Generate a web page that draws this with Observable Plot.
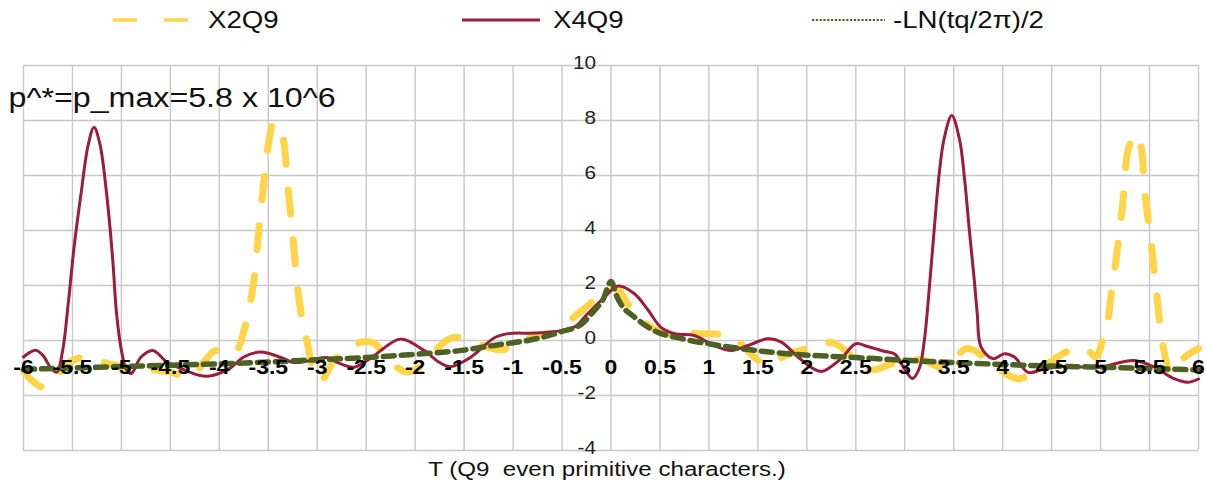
<!DOCTYPE html>
<html>
<head>
<meta charset="utf-8">
<script src="https://cdn.jsdelivr.net/npm/d3@7"></script>
<script src="https://cdn.jsdelivr.net/npm/@observablehq/plot@0.6"></script>
<style>
  body { margin: 0; background: #fff; font-family: "Liberation Sans", Arial, sans-serif; }
  #legend { position: relative; width: 1206px; height: 40px; }
  .item { position: absolute; top: 0; height: 40px; display: flex; align-items: center; }
  .item svg { display: block; }
  .item span { display: inline-block; font-size: 24px; color: #111; transform: scaleX(1.15); transform-origin: left center; }
</style>
</head>
<body>
<div id="legend"></div>
<div id="chart"></div>
<script>
// Series: X2Q9, X4Q9 and the reference curve -LN(tq/2π)/2, sampled along T
const x2q9T = [-6.0,-5.9,-5.79,-5.68,-5.57,-5.45,-5.33,-5.2,-5.05,-4.9,-4.7,-4.5,-4.35,-4.25,-4.15,-4.06,-3.98,-3.9,-3.82,-3.76,-3.7,-3.65,-3.6,-3.55,-3.5,-3.45,-3.4,-3.35,-3.3,-3.25,-3.2,-3.15,-3.1,-3.03,-2.96,-2.83,-2.69,-2.55,-2.42,-2.3,-2.2,-2.08,-1.95,-1.81,-1.68,-1.58,-1.45,-1.33,-1.2,-1.1,-0.98,-0.85,-0.7,-0.55,-0.38,-0.2,-0.08,0.02,0.1,0.17,0.3,0.41,0.54,0.7,0.92,1.12,1.25,1.36,1.46,1.55,1.65,1.75,1.85,1.95,2.1,2.28,2.45,2.6,2.73,2.86,3.0,3.2,3.37,3.5,3.62,3.71,3.85,3.95,4.05,4.17,4.3,4.39,4.5,4.63,4.75,4.87,4.95,5.02,5.07,5.1,5.17,5.23,5.28,5.35,5.41,5.45,5.52,5.58,5.64,5.72,5.82,5.92,6.0];
const x2q9V = [-1.1,-1.5,-1.7,-1.4,-0.9,-0.65,-0.62,-0.78,-0.92,-1.0,-1.05,-1.15,-1.3,-1.2,-0.75,-0.4,-0.36,-0.5,-0.35,0.2,1.1,2.1,3.9,5.6,7.1,7.85,7.9,7.4,5.6,3.8,1.9,0.7,-0.1,-1.2,-1.45,-0.73,-0.36,-0.06,-0.1,-0.6,-0.95,-1.15,-0.95,-0.42,0.0,0.12,-0.02,-0.15,-0.3,-0.33,-0.1,0.07,0.22,0.3,0.84,1.38,1.75,1.9,1.75,1.33,0.8,0.48,0.25,0.25,0.25,0.22,0.1,-0.24,-0.6,-0.82,-0.85,-0.6,-0.45,-0.35,-0.15,-0.1,-0.55,-1.05,-1.03,-0.85,-0.7,-0.73,-0.97,-0.7,-0.3,-0.36,-0.73,-1.0,-1.25,-1.39,-1.2,-1.09,-0.75,-0.45,-0.27,-0.35,-0.6,0.0,0.6,1.45,3.27,5.1,6.9,7.5,7.1,5.45,3.4,1.45,-0.24,-1.2,-0.73,-0.45,-0.3];

const x4q9T = [-6.0,-5.93,-5.87,-5.8,-5.72,-5.66,-5.6,-5.54,-5.48,-5.41,-5.34,-5.28,-5.22,-5.15,-5.09,-5.05,-5.0,-4.95,-4.9,-4.8,-4.68,-4.53,-4.37,-4.22,-4.12,-3.91,-3.75,-3.58,-3.37,-3.24,-3.1,-2.91,-2.76,-2.62,-2.42,-2.35,-2.15,-1.91,-1.75,-1.64,-1.43,-1.19,-1.05,-0.78,-0.51,-0.37,-0.24,-0.07,0.07,0.24,0.38,0.51,0.65,0.85,1.05,1.23,1.4,1.6,1.74,1.91,2.07,2.16,2.35,2.5,2.62,2.79,2.9,3.0,3.08,3.15,3.2,3.24,3.3,3.35,3.4,3.48,3.56,3.61,3.66,3.71,3.74,3.78,3.9,4.02,4.12,4.26,4.43,4.63,5.0,5.21,5.35,5.55,5.75,5.89,6.0];
const x4q9V = [-0.6,-0.42,-0.36,-0.55,-1.0,-1.15,-0.36,1.45,3.5,5.4,7.1,7.75,7.15,5.3,3.0,1.0,-0.36,-1.05,-1.2,-0.6,-0.36,-0.8,-1.05,-1.25,-1.3,-1.05,-0.6,-0.42,-0.62,-0.8,-0.75,-0.62,-0.85,-0.97,-0.55,-0.36,0.05,-0.36,-0.8,-0.95,-0.6,0.1,0.25,0.27,0.36,0.5,0.97,1.56,1.98,1.7,1.1,0.48,0.25,0.18,-0.18,-0.36,-0.18,0.06,-0.06,-0.6,-1.03,-1.12,-0.66,-0.12,-0.22,-0.39,-0.5,-1.05,-1.38,-1.0,0.0,1.45,4.0,6.0,7.3,8.18,7.3,5.9,4.0,2.2,1.0,-0.24,-0.66,-0.48,-0.6,-1.16,-1.03,-0.95,-0.97,-0.79,-0.73,-0.97,-1.39,-1.52,-1.4];

const lnT = [-6,-5.5,-5,-4.5,-4,-3.5,-3,-2.5,-2,-1.5,-1.2,-1,-0.85,-0.7,-0.5,-0.3,-0.17,-0.08,0,0.06,0.1,0.24,0.44,0.72,1.0,1.4,1.8,2.5,3,3.5,4,4.5,5,5.5,6];
const lnV = [-1.05,-1.0,-0.95,-0.9,-0.85,-0.78,-0.7,-0.62,-0.5,-0.35,-0.18,-0.08,0.0,0.12,0.33,0.6,1.09,1.5,2.15,1.6,1.33,0.85,0.36,0.07,-0.12,-0.33,-0.48,-0.62,-0.72,-0.8,-0.87,-0.93,-0.97,-1.02,-1.07];

// Axis ticks and labels
const xTicks = [-6,-5.5,-5,-4.5,-4,-3.5,-3,-2.5,-2,-1.5,-1,-0.5,0,0.5,1,1.5,2,2.5,3,3.5,4,4.5,5,5.5,6];
const xTickLabels = ["-6","-5.5","-5","-4.5","-4","-3.5","-3","-2.5","-2","-1.5","-1","-0.5","0","0.5","1","1.5","2","2.5","3","3.5","4","4.5","5","5.5","6"];
const yTicks = [-4,-2,0,2,4,6,8,10];
const yTickLabels = ["-4","-2","0","2","4","6","8","10"];

const seriesNames = ["X2Q9", "X4Q9", "-LN(tq/2\u03c0)/2"];
const seriesColors = ["#ffd447", "#9b1c3c", "#4d6125"];
const annotation = "p^*=p_max=5.8 x 10^6";
const xTitle = "T (Q9 \u00a0even primitive characters.)";

const rows = (T, V) => T.map((t, i) => ({t, v: V[i]}));
const x2q9 = rows(x2q9T, x2q9V);
const x4q9 = rows(x4q9T, x4q9V);
const lnRef = rows(lnT, lnV);

// Legend row above the chart
const legendSpots = [{sw: 113, tx: 208}, {sw: 462, tx: 553}, {sw: 812, tx: 893}];
const swatch = [
  `<svg width="80" height="10"><line x1="0" y1="5" x2="78" y2="5" stroke="${seriesColors[0]}" stroke-width="3.5" stroke-dasharray="24,27"/></svg>`,
  `<svg width="80" height="10"><line x1="0" y1="5" x2="78" y2="5" stroke="${seriesColors[1]}" stroke-width="3"/></svg>`,
  `<svg width="80" height="10"><line x1="0" y1="5" x2="73" y2="5" stroke="${seriesColors[2]}" stroke-width="2" stroke-dasharray="2.2,1.6"/></svg>`
];
const legend = document.getElementById("legend");
seriesNames.forEach((name, i) => {
  const a = document.createElement("div");
  a.className = "item";
  a.style.left = legendSpots[i].sw + "px";
  a.innerHTML = swatch[i];
  legend.appendChild(a);
  const b = document.createElement("div");
  b.className = "item";
  b.style.left = legendSpots[i].tx + "px";
  b.innerHTML = `<span>${name}</span>`;
  legend.appendChild(b);
});

const chart = Plot.plot({
  width: 1206,
  height: 447,
  marginLeft: 23,
  marginRight: 8,
  marginTop: 25,
  marginBottom: 37,
  x: {domain: [-6, 6], axis: null},
  y: {domain: [-4, 10], axis: null},
  style: {fontFamily: "'Liberation Sans', Arial, sans-serif", background: "#fff", overflow: "visible"},
  marks: [
    Plot.ruleX(xTicks, {stroke: "#c8c8c8", strokeWidth: 1.4}),
    Plot.ruleY(yTicks, {stroke: "#c8c8c8", strokeWidth: 1.4}),
    Plot.line(x2q9, {x: "t", y: "v", stroke: seriesColors[0], strokeWidth: 7, strokeDasharray: "24,26", curve: "catmull-rom"}),
    Plot.line(x4q9, {x: "t", y: "v", stroke: seriesColors[1], strokeWidth: 3, curve: "catmull-rom"}),
    Plot.line(lnRef, {x: "t", y: "v", stroke: seriesColors[2], strokeWidth: 5.5, strokeDasharray: "11,7", curve: "monotone-x"}),
    Plot.text(yTicks, {x: 0, y: d => d, text: (d, i) => yTickLabels[i], dx: -15, dy: -2, textAnchor: "end", fontSize: 18, fill: "#222"}),
    Plot.text(xTicks, {x: d => d, y: 0, text: (d, i) => xTickLabels[i], dy: 27, fontSize: 20, fontWeight: "bold", fill: "#000"}),
    Plot.text([annotation], {frameAnchor: "top-left", text: d => d, dx: -15, dy: 22, textAnchor: "start", fontSize: 28, fill: "#111"}),
    Plot.text([xTitle], {frameAnchor: "bottom", text: d => d, dx: -4, dy: 25, fontSize: 21, fill: "#111"})
  ]
});

// The lettering of this chart is set wide: stretch every label horizontally about its anchor
chart.querySelectorAll("text").forEach(t => {
  const tr = t.getAttribute("transform");
  t.setAttribute("transform", (tr ? tr + " " : "") + "scale(1.15,1)");
});

document.getElementById("chart").appendChild(chart);
</script>
</body>
</html>
